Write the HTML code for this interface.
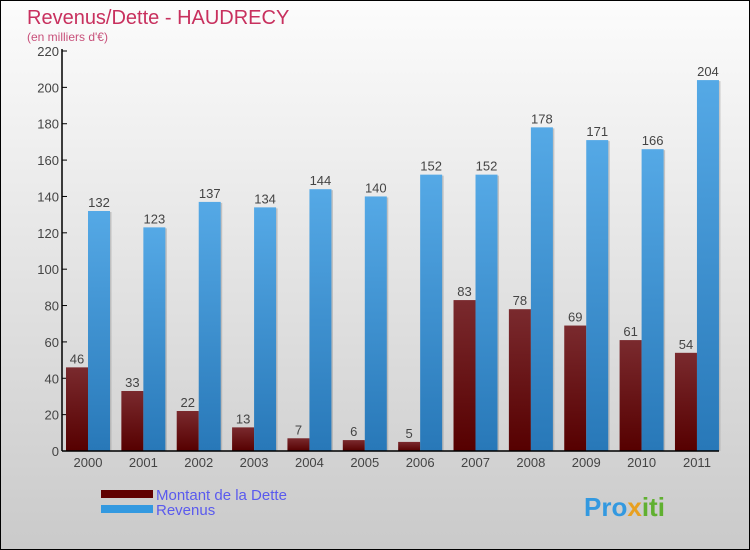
<!DOCTYPE html>
<html><head><meta charset="utf-8"><style>
body{margin:0}
#c{width:750px;height:550px;position:relative;box-sizing:border-box;border:1px solid #000;background:linear-gradient(#fcfcfc,#cacaca);overflow:hidden;font-family:"Liberation Sans",sans-serif}
</style></head><body>
<div id="c">
<svg id="s" width="750" height="550" style="position:absolute;left:0;top:0">
<defs>
<linearGradient id="gd" x1="0" y1="0" x2="0" y2="1"><stop offset="0" stop-color="#7a2a2e"/><stop offset="1" stop-color="#560000"/></linearGradient>
<linearGradient id="gr" x1="0" y1="0" x2="0" y2="1"><stop offset="0" stop-color="#55a9e6"/><stop offset="1" stop-color="#2878b8"/></linearGradient>
</defs>
<text x="26" y="23" font-size="20" fill="#c8305e">Revenus/Dette - HAUDRECY</text>
<text x="26" y="40" font-size="12" fill="#c8507a">(en milliers d'€)</text>
<g id="g"></g>
<rect x="100" y="489" width="52" height="8" fill="#600000"/>
<rect x="100" y="504" width="52" height="8" fill="#3399e0"/>
<text x="155" y="499" font-size="15" fill="#5a5aee">Montant de la Dette</text>
<text x="155" y="514" font-size="15" fill="#5a5aee">Revenus</text>
<text x="583" y="515" font-size="26" font-weight="bold" fill="#3399e0">Pro<tspan fill="#e8a020">x</tspan><tspan fill="#60b030">iti</tspan></text>
</svg>
</div>
<script>
const years=["2000","2001","2002","2003","2004","2005","2006","2007","2008","2009","2010","2011"];
const dette=[46,33,22,13,7,6,5,83,78,69,61,54];
const revenus=[132,123,137,134,144,140,152,152,178,171,166,204];
const yTicks=[0,20,40,60,80,100,120,140,160,180,200,220];
const NS="http://www.w3.org/2000/svg";
const g=document.getElementById('g');
const y0=450,ymax=220,ph=400,x0=61,pitch=55.36,bw=22;
const ys=v=>y0-v/ymax*ph;
const cx=i=>87+i*pitch;
function mk(t,a){const e=document.createElementNS(NS,t);for(const k in a)e.setAttribute(k,a[k]);g.appendChild(e);return e;}
yTicks.forEach(v=>{
 const l=mk('line',{x1:x0,x2:x0+5,y1:ys(v),y2:ys(v),stroke:'#000'});
 
 
 const t=mk('text',{x:x0-3,y:ys(v)+5,'font-size':13,fill:'#444','text-anchor':'end'});
 t.textContent=v;
 
 
});
years.forEach((yr,i)=>{
 const c=cx(i);
 [[dette[i],c-bw,'url(#gd)','dette'],[revenus[i],c,'url(#gr)','revenus']].forEach(([v,x,f,n])=>{
  const sh=mk('rect',{x:x+1.5,y:ys(v)+1,width:bw,height:y0-ys(v)-1,fill:'#999',opacity:0.5});
  
  
  const r=mk('rect',{x:x,y:ys(v),width:bw,height:y0-ys(v),fill:f});
  
  
  const t=mk('text',{x:x+bw/2,y:ys(v)-4,'font-size':13,fill:'#444','text-anchor':'middle'});
  t.textContent=v;
  
  
 });
 const t=mk('text',{x:c,y:466,'font-size':13,fill:'#444','text-anchor':'middle'});
 t.textContent=yr;
 
 
});
const ax=mk('line',{x1:x0,x2:x0,y1:48,y2:y0,stroke:'#000','stroke-width':1.5});


const xa=mk('line',{x1:x0,x2:718,y1:y0,y2:y0,stroke:'#000','stroke-width':1.5});


</script>
</body></html>
